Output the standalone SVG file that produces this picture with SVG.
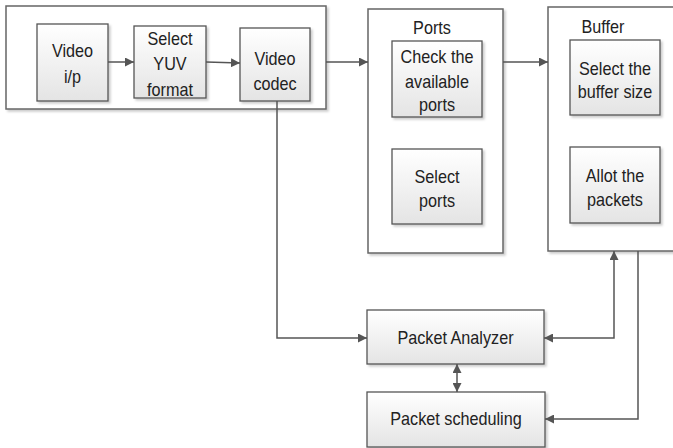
<svg xmlns="http://www.w3.org/2000/svg" width="673" height="448" viewBox="0 0 673 448">
<defs>
<linearGradient id="g" x1="0" y1="0" x2="0" y2="1">
<stop offset="0" stop-color="#ffffff"/>
<stop offset="1" stop-color="#e4e4e4"/>
</linearGradient>
<marker id="ah" viewBox="0 0 10 10" refX="10" refY="5" markerWidth="9" markerHeight="9" markerUnits="userSpaceOnUse" orient="auto-start-reverse">
<path d="M0,0 L10,5 L0,10 z" fill="#555"/>
</marker>
<filter id="sh" x="-10%" y="-10%" width="130%" height="130%">
<feDropShadow dx="2" dy="2" stdDeviation="1" flood-color="#000" flood-opacity="0.2"/>
</filter>
</defs>
<style>
.cont{fill:#fff;stroke:#666;stroke-width:1.5;filter:url(#sh)}
.box{fill:url(#g);stroke:#555;stroke-width:1.3;filter:url(#sh)}
text{font-family:"Liberation Sans",Arial,sans-serif;font-size:18px;fill:#222;text-anchor:middle}
.c{fill:none;stroke:#555;stroke-width:1.5}
</style>
<rect width="673" height="448" fill="#fff"/>
<g id="video-group"><rect class="cont" x="6" y="6" width="320" height="103"/></g>
<g id="video-ip"><rect class="box" x="37" y="24" width="71" height="77"/><text transform="translate(72.5,57) scale(0.9,1)">Video</text><text transform="translate(72.5,83) scale(0.9,1)">i/p</text></g>
<g id="select-yuv"><rect class="box" x="134" y="26" width="72" height="72"/><text transform="translate(170,45) scale(0.9,1)">Select</text><text transform="translate(170,70) scale(0.9,1)">YUV</text><text transform="translate(170,96) scale(0.9,1)">format</text></g>
<g id="video-codec"><rect class="box" x="240" y="28" width="70" height="73"/><text transform="translate(275,65) scale(0.9,1)">Video</text><text transform="translate(275,90) scale(0.9,1)">codec</text></g>
<g id="ports"><rect class="cont" x="368" y="9" width="135" height="244"/><text transform="translate(432,34) scale(0.9,1)">Ports</text></g>
<g id="check-ports"><rect class="box" x="392" y="41" width="90" height="76"/><text transform="translate(437,63) scale(0.9,1)">Check the</text><text transform="translate(437,88) scale(0.9,1)">available</text><text transform="translate(437,111) scale(0.9,1)">ports</text></g>
<g id="select-ports"><rect class="box" x="392" y="149" width="90" height="75"/><text transform="translate(437,183) scale(0.9,1)">Select</text><text transform="translate(437,207) scale(0.9,1)">ports</text></g>
<g id="buffer"><rect class="cont" x="548" y="7" width="140" height="244"/><text transform="translate(603,33) scale(0.9,1)">Buffer</text></g>
<g id="buffer-size"><rect class="box" x="570" y="40" width="90" height="75"/><text transform="translate(615,75) scale(0.9,1)">Select the</text><text transform="translate(615,98) scale(0.9,1)">buffer size</text></g>
<g id="allot-packets"><rect class="box" x="570" y="147" width="90" height="76"/><text transform="translate(615,182) scale(0.9,1)">Allot the</text><text transform="translate(615,206) scale(0.9,1)">packets</text></g>
<g id="packet-analyzer"><rect class="box" x="367" y="310" width="177" height="54"/><text transform="translate(455.5,344) scale(0.9,1)">Packet Analyzer</text></g>
<g id="packet-scheduling"><rect class="box" x="367" y="392" width="178" height="55"/><text transform="translate(456,425) scale(0.9,1)">Packet scheduling</text></g>
<g id="connectors">
<path class="c" d="M108,62 L134,62" marker-end="url(#ah)"/>
<path class="c" d="M206,62 L240,63" marker-end="url(#ah)"/>
<path class="c" d="M326,62 L368,62" marker-end="url(#ah)"/>
<path class="c" d="M503,62 L548,62" marker-end="url(#ah)"/>
<path class="c" d="M277,101 L277,338 L367,338" marker-end="url(#ah)"/>
<path class="c" d="M544,338 L614,338 L614,251" marker-start="url(#ah)" marker-end="url(#ah)"/>
<path class="c" d="M638,251 L638,419 L545,419" marker-end="url(#ah)"/>
<path class="c" d="M457,364 L457,392" marker-start="url(#ah)" marker-end="url(#ah)"/>
</g>
</svg>
